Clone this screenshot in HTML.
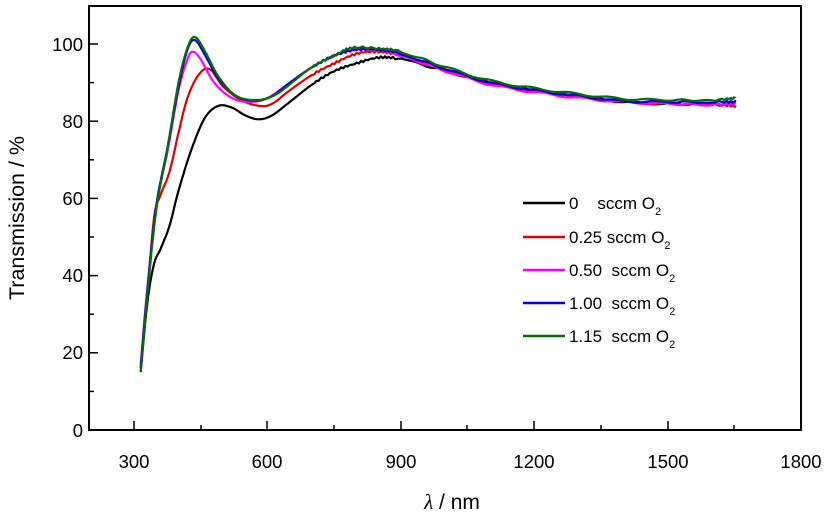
<!DOCTYPE html>
<html><head><meta charset="utf-8"><style>
html,body{margin:0;padding:0;background:#fff;}
svg{display:block;font-family:"Liberation Sans",Arial,sans-serif;}
</style></head><body>
<svg id="s" width="827" height="515" xmlns="http://www.w3.org/2000/svg">
<rect x="89" y="6" width="712" height="424" fill="none" stroke="#000" stroke-width="2"/>
<g stroke="#000" stroke-width="1.5">
<line x1="134" y1="430" x2="134" y2="421"/><line x1="201" y1="430" x2="201" y2="425"/>
<line x1="267" y1="430" x2="267" y2="421"/><line x1="334" y1="430" x2="334" y2="425"/>
<line x1="401" y1="430" x2="401" y2="421"/><line x1="467" y1="430" x2="467" y2="425"/>
<line x1="534" y1="430" x2="534" y2="421"/><line x1="601" y1="430" x2="601" y2="425"/>
<line x1="668" y1="430" x2="668" y2="421"/><line x1="734" y1="430" x2="734" y2="425"/>
<line x1="89" y1="44" x2="98" y2="44"/><line x1="89" y1="82.6" x2="94" y2="82.6"/>
<line x1="89" y1="121.2" x2="98" y2="121.2"/><line x1="89" y1="159.8" x2="94" y2="159.8"/>
<line x1="89" y1="198.4" x2="98" y2="198.4"/><line x1="89" y1="237" x2="94" y2="237"/>
<line x1="89" y1="275.6" x2="98" y2="275.6"/><line x1="89" y1="314.2" x2="94" y2="314.2"/>
<line x1="89" y1="352.8" x2="98" y2="352.8"/><line x1="89" y1="391.4" x2="94" y2="391.4"/>
</g>
<g font-size="18.5" text-anchor="middle" fill="#000">
<text x="134" y="468">300</text><text x="267" y="468">600</text><text x="401" y="468">900</text>
<text x="534" y="468">1200</text><text x="668" y="468">1500</text><text x="801" y="468">1800</text>
</g>
<g font-size="18.5" text-anchor="end" fill="#000">
<text x="83" y="51">100</text><text x="83" y="128">80</text><text x="83" y="205">60</text>
<text x="83" y="282">40</text><text x="83" y="359">20</text><text x="83" y="437">0</text>
</g>
<text x="452" y="509" font-size="21" text-anchor="middle"><tspan font-style="italic" font-family="Liberation Serif,serif">λ</tspan> / nm</text>
<text transform="translate(24,218) rotate(-90)" font-size="21.5" text-anchor="middle">Transmission / %</text>
<g id="curves" fill="none" stroke-width="2.2" stroke-linejoin="round"></g>
<g stroke-width="2.5">
<line x1="523" y1="203" x2="565" y2="203" stroke="#000"/>
<line x1="523" y1="237" x2="565" y2="237" stroke="#e00000"/>
<line x1="523" y1="270" x2="565" y2="270" stroke="#ff00ff"/>
<line x1="523" y1="303" x2="565" y2="303" stroke="#0000e0"/>
<line x1="523" y1="336" x2="565" y2="336" stroke="#007000"/>
</g>
<g font-size="17" fill="#000">
<text x="569" y="209">0&#160;&#160;&#160; sccm O<tspan font-size="11" dy="6">2</tspan></text>
<text x="569" y="243">0.25 sccm O<tspan font-size="11" dy="6">2</tspan></text>
<text x="569" y="276">0.50&#160; sccm O<tspan font-size="11" dy="6">2</tspan></text>
<text x="569" y="309">1.00&#160; sccm O<tspan font-size="11" dy="6">2</tspan></text>
<text x="569" y="342">1.15&#160; sccm O<tspan font-size="11" dy="6">2</tspan></text>
</g>
</svg>
<script>
function X(l){return 134+(l-300)*0.4453;}
function Y(v){return 430-v*3.86;}
var series=[
["#000",[[315,15],[330,33],[345,43],[360,47],[380,53],[400,62],[430,73],[460,81],[490,84],[520,83.5],[550,81.5],[580,80.5],[610,81.5],[650,85],[700,89.5],[750,93],[800,95],[850,96.5],[900,96],[1000,93],[1100,90],[1200,88],[1300,86.5],[1400,85],[1500,84.5],[1600,84.3],[1650,84]]],
["#e00000",[[315,16],[330,35],[345,55],[360,61],[380,67],[400,77],[420,86],[445,92],[470,93.5],[500,89],[540,85.5],[580,84],[610,84.5],[650,88],[700,92],[750,95],[800,97.5],[850,98],[900,97],[1000,93.5],[1100,90],[1200,88],[1300,86.5],[1400,85],[1500,84.5],[1600,84.3],[1650,84]]],
["#ff00ff",[[315,17],[330,37],[350,58],[375,72],[400,88],[420,96],[432,98],[450,96],[480,90],[520,86],[560,85],[600,86],[650,90],[700,94],[750,97],[800,98.5],[850,98.3],[900,97],[1000,93],[1100,89.5],[1200,87.5],[1300,86],[1400,85],[1500,84.5],[1600,84.3],[1650,84.5]]],
["#0000e0",[[315,16],[330,36],[350,58],[375,73],[400,89],[420,98.5],[437,101],[460,97],[490,91],[530,86.5],[570,85.3],[610,86.5],[650,90],[700,94],[750,97],[800,98.6],[850,98.5],[900,97.5],[1000,93.5],[1100,90],[1200,88],[1300,86.5],[1400,85.2],[1500,85],[1600,85],[1650,85]]],
["#007000",[[315,15],[330,35],[350,57],[375,73],[400,90],[420,99],[437,101.8],[460,98],[490,91.5],[530,86.5],[580,85.5],[620,87],[660,90.5],[700,94],[750,97],[790,99],[850,98.8],[900,98],[1000,94],[1100,90.5],[1200,88.5],[1300,87],[1400,85.8],[1500,85.5],[1600,85.5],[1650,86]]]
];
var g=document.getElementById('curves');
series.forEach(function(s,k){
 var p=s[1],pts=[];
 for(var i=0;i<p.length-1;i++){
  var p0=p[Math.max(0,i-1)],p1=p[i],p2=p[i+1],p3=p[Math.min(p.length-1,i+2)];
  for(var t=0;t<1;t+=0.1){
   var t2=t*t,t3=t2*t;
   var f=function(a,b,c,d){return 0.5*(2*b+(-a+c)*t+(2*a-5*b+4*c-d)*t2+(-a+3*b-3*c+d)*t3);};
   var l=f(p0[0],p1[0],p2[0],p3[0]),v=f(p0[1],p1[1],p2[1],p3[1]);
   if(l>700) v+=Math.sin(l*0.7+k)*0.25;
   pts.push(X(l).toFixed(1)+','+Y(v).toFixed(1));
  }
 }
 var q=p[p.length-1];pts.push(X(q[0]).toFixed(1)+','+Y(q[1]).toFixed(1));
 var e=document.createElementNS('http://www.w3.org/2000/svg','polyline');
 e.setAttribute('points',pts.join(' '));e.setAttribute('stroke',s[0]);
 g.appendChild(e);
});
</script>
</body></html>
